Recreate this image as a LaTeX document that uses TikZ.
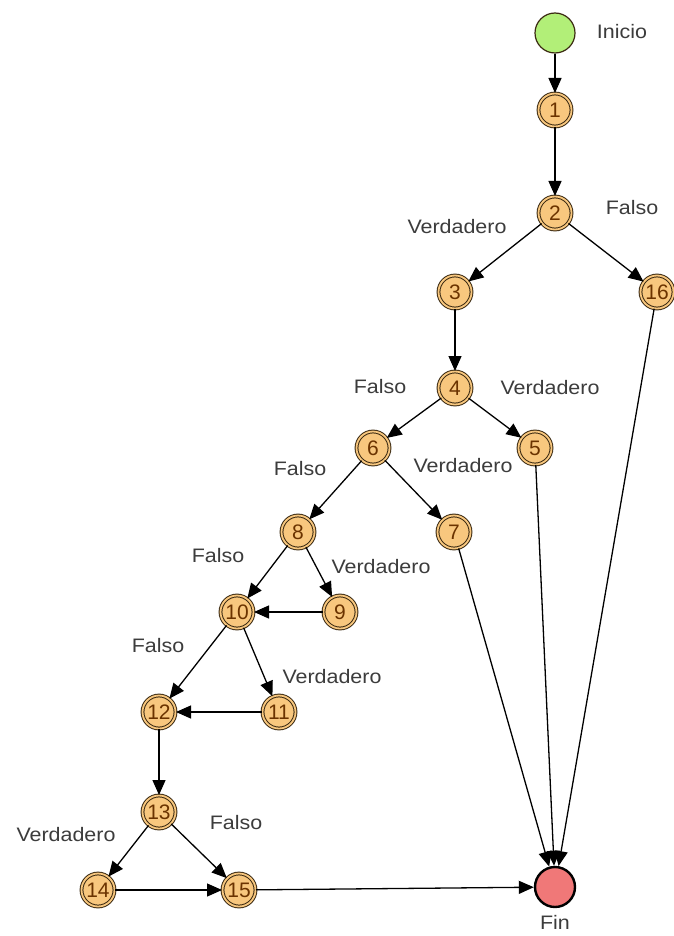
\documentclass[tikz,border=0pt]{standalone}
\usepackage{fontspec}
\setmainfont{Liberation Sans}
\usetikzlibrary{arrows.meta}
\definecolor{stepfill}{HTML}{F8C77E}
\definecolor{stepline}{HTML}{3B2A12}
\definecolor{stepnum}{HTML}{6B3300}
\definecolor{startfill}{HTML}{B2EF78}
\definecolor{endfill}{HTML}{F07878}
\definecolor{labelgray}{HTML}{3C3C3C}
\newcommand{\wide}[1]{\scalebox{1.1}[1]{#1}}
\begin{document}
\begin{tikzpicture}[x=1pt,y=-1pt,
  stepnode/.style={circle,draw=stepline,line width=1pt,double=stepfill,
    double distance=1.8pt,fill=stepfill,minimum size=33pt,inner sep=0pt,
    text=stepnum,font=\fontsize{21}{21}\selectfont},
  startnode/.style={circle,draw=stepline,line width=1.2pt,fill=startfill,minimum size=40pt,inner sep=0pt},
  endnode/.style={circle,draw=black,line width=2.4pt,fill=endfill,minimum size=40pt,inner sep=0pt},
  lbl/.style={text=labelgray,font=\fontsize{19.5}{19.5}\selectfont,inner sep=0pt},
  flow/.style={-{Triangle[length=15pt,width=13pt]},line width=1.3pt,black},
  ]
\useasboundingbox (0,0) rectangle (673,936);
\fill[white] (0,0) rectangle (673,936);

% start and end
\node[startnode] (ini) at (555,33) {};
\node[lbl] (lini) at (622,32) {\wide{Inicio}};
\node[endnode] (fin) at (555,887) {};
\node[lbl] (lfin) at (555,922) {\wide{Fin}};

% numbered steps
\node[stepnode] (n1) at (555,110) {1};
\node[stepnode] (n2) at (555,213) {2};
\node[stepnode] (n3) at (455,292) {3};
\node[stepnode] (n16) at (657,292) {16};
\node[stepnode] (n4) at (455,388) {4};
\node[stepnode] (n5) at (535,448) {5};
\node[stepnode] (n6) at (373,448) {6};
\node[stepnode] (n7) at (454,532) {7};
\node[stepnode] (n8) at (298,532) {8};
\node[stepnode] (n9) at (340,612) {9};
\node[stepnode] (n10) at (237,612) {10};
\node[stepnode] (n11) at (279,712) {11};
\node[stepnode] (n12) at (159,712) {12};
\node[stepnode] (n13) at (159,812) {13};
\node[stepnode] (n14) at (98,890) {14};
\node[stepnode] (n15) at (239,890) {15};

% branch labels
\node[lbl] (l2f) at (632,208) {\wide{Falso}};
\node[lbl] (l2v) at (457,227) {\wide{Verdadero}};
\node[lbl] (l4f) at (380,387) {\wide{Falso}};
\node[lbl] (l4v) at (550,388) {\wide{Verdadero}};
\node[lbl] (l6f) at (300,469) {\wide{Falso}};
\node[lbl] (l6v) at (463,466) {\wide{Verdadero}};
\node[lbl] (l8f) at (218,556) {\wide{Falso}};
\node[lbl] (l8v) at (381,567) {\wide{Verdadero}};
\node[lbl] (l10f) at (158,646) {\wide{Falso}};
\node[lbl] (l10v) at (332,677) {\wide{Verdadero}};
\node[lbl] (l13f) at (236,823) {\wide{Falso}};
\node[lbl] (l13v) at (66,835) {\wide{Verdadero}};

% connectors
\draw[flow] (ini) -- (n1);
\draw[flow] (n1) -- (n2);
\draw[flow] (n2) -- (n3);
\draw[flow] (n2) -- (n16);
\draw[flow] (n3) -- (n4);
\draw[flow] (n4) -- (n6);
\draw[flow] (n4) -- (n5);
\draw[flow] (n6) -- (n8);
\draw[flow] (n6) -- (n7);
\draw[flow] (n8) -- (n10);
\draw[flow] (n8) -- (n9);
\draw[flow] (n9) -- (n10);
\draw[flow] (n10) -- (n12);
\draw[flow] (n10) -- (n11);
\draw[flow] (n11) -- (n12);
\draw[flow] (n12) -- (n13);
\draw[flow] (n13) -- (n14);
\draw[flow] (n13) -- (n15);
\draw[flow] (n14) -- (n15);
\draw[flow] (n15) -- (fin);
\draw[flow] (n7) -- (fin);
\draw[flow] (n5) -- (fin);
\draw[flow] (n16) -- (fin);
\end{tikzpicture}
\end{document}
